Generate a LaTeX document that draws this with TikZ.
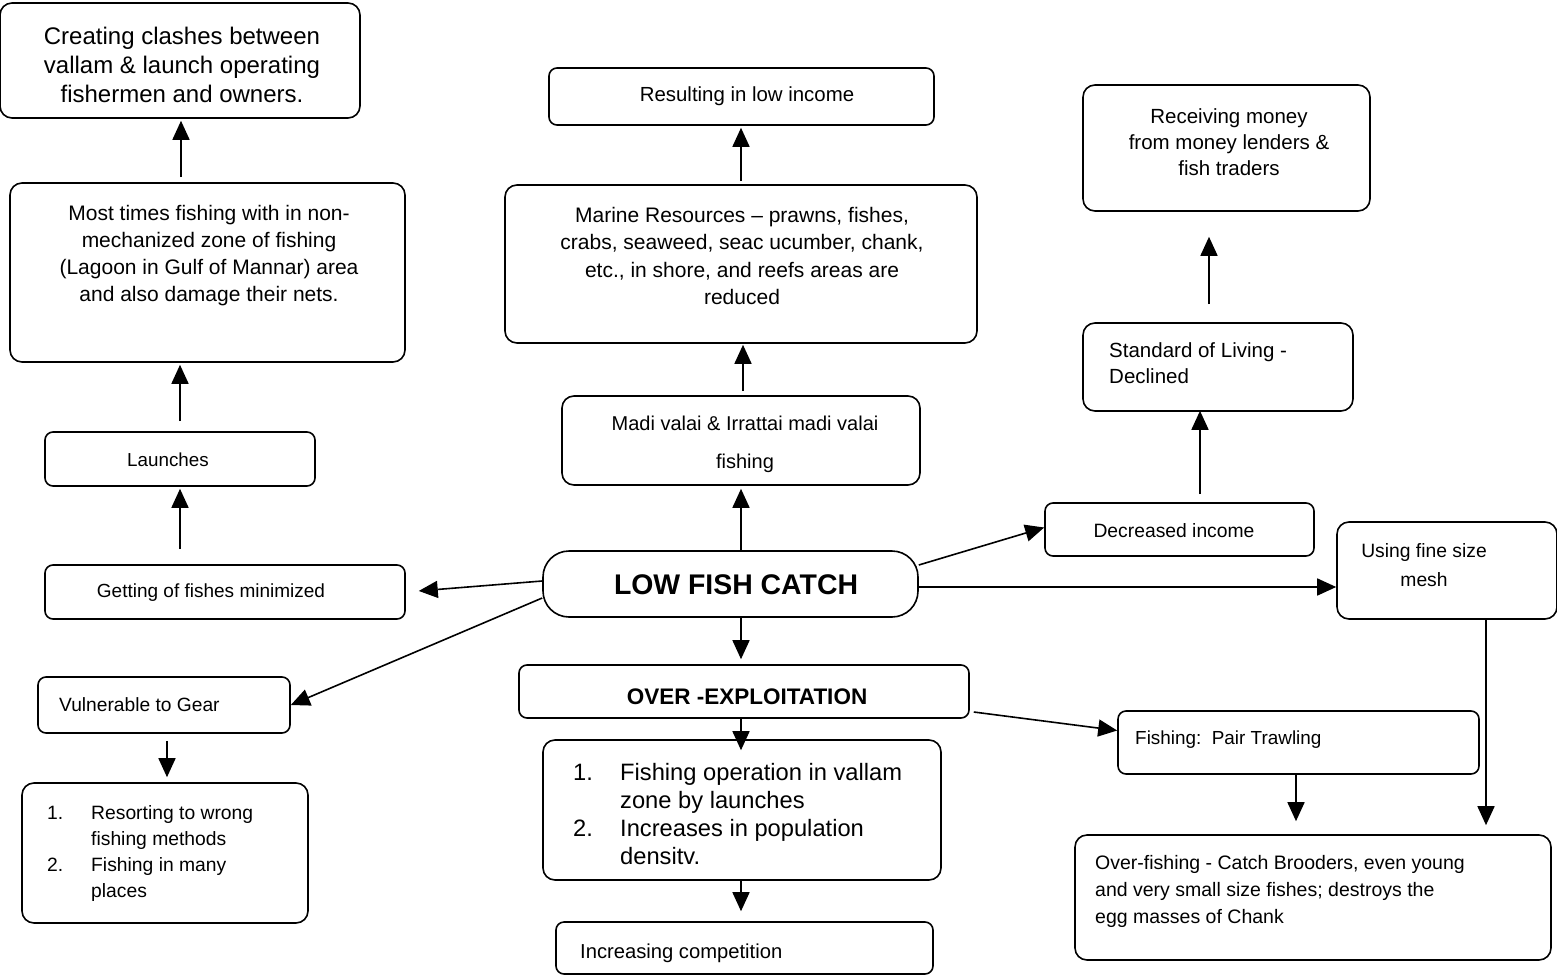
\documentclass[tikz,border=0pt]{standalone}
\usepackage{fontspec}
\setmainfont{Liberation Sans}
\usetikzlibrary{arrows.meta,fit}
\newcommand{\fs}[2]{\fontsize{#1}{#2}\selectfont}
\begin{document}
\begin{tikzpicture}[x=1pt,y=-1pt,
  box/.style={draw,line width=1.6pt,rounded corners=12pt,inner sep=0pt},
  sbox/.style={draw,line width=1.6pt,rounded corners=8pt,inner sep=0pt},
  txt/.style={inner sep=0pt,align=center,font=\fs{20}{27}},
  ltxt/.style={inner sep=0pt,align=left,font=\fs{20}{27}},
  arr/.style={line width=1.6pt,-{Triangle[length=19pt,width=17pt]}}]
\useasboundingbox (0,0) rectangle (1557,979);
\fill[white] (0,0) rectangle (1557,979);

% boxes
\node[box, fit={(0,3) (360,118)}] (clash) {};
\node[box, fit={(10,183) (405,362)}] (most) {};
\node[sbox, fit={(45,432) (315,486)}] (launch) {};
\node[sbox, fit={(45,565) (405,619)}] (getting) {};
\node[sbox, fit={(38,677) (290,733)}] (vuln) {};
\node[box, fit={(22,783) (308,923)}] (resort) {};
\node[draw,line width=1.6pt,rounded corners=26pt,inner sep=0pt, fit={(543,551) (918,617)}] (low) {};
\node[box, fit={(562,396) (920,485)}] (madi) {};
\node[box, fit={(505,185) (977,343)}] (marine) {};
\node[sbox, fit={(549,68) (934,125)}] (result) {};
\node[box, fit={(1083,85) (1370,211)}] (receive) {};
\node[box, fit={(1083,323) (1353,411)}] (stand) {};
\node[sbox, fit={(1045,503) (1314,556)}] (decr) {};
\node[box, fit={(1337,522) (1557,619)}] (mesh) {};
\node[sbox, fit={(519,665) (969,718)}] (over) {};
\node[box, fit={(543,740) (941,880)}] (oplist) {};
\node[sbox, fit={(556,922) (933,974)}] (compet) {};
\node[sbox, fit={(1118,711) (1479,774)}] (pair) {};
\node[box, fit={(1075,835) (1551,960)}] (overfish) {};

% texts
\node[txt,font=\fs{24}{29}] (tclash) at (182,65)
  {Creating clashes between\\vallam \& launch operating\\fishermen and owners.};
\node[txt,font=\fs{21}{27}] (tmost) at (209,256)
  {Most times fishing with in non-\\mechanized zone of fishing\\(Lagoon in Gulf of Mannar) area\\and also damage their nets.};
\node[txt,font=\fs{18.8}{27}] (tlaunch) at (168,460) {Launches};
\node[txt,font=\fs{19}{27}] (tgetting) at (211,593) {Getting of fishes minimized};
\node[ltxt,anchor=west,font=\fs{19.2}{27}] (tvuln) at (59,705) {Vulnerable to Gear};
\node[ltxt,anchor=north west,font=\fs{19.3}{27}] (tresort) at (47,800)
  {\begin{tabular}{@{}p{44pt}@{}l@{}}
   1. & Resorting to wrong\\[-1pt]
      & fishing methods\\[-1pt]
   2. & Fishing in many\\[-1pt]
      & places
   \end{tabular}};
\node[txt,font=\bfseries\fs{28.4}{30}] (tlow) at (736,585) {LOW FISH CATCH};
\node[txt,font=\fs{20}{38}] (tmadi) at (745,444)
  {Madi valai \& Irrattai madi valai\\fishing};
\node[txt,font=\fs{21}{27.5}] (tmarine) at (742,256)
  {Marine Resources -- prawns, fishes,\\crabs, seaweed, seac ucumber, chank,\\etc., in shore, and reefs areas are\\reduced};
\node[txt,font=\fs{20.4}{27}] (tresult) at (747,96) {Resulting in low income};
\node[txt,font=\fs{20.5}{26}] (treceive) at (1229,142)
  {Receiving money\\from money lenders \&\\fish traders};
\node[ltxt,anchor=west,font=\fs{20.5}{26}] (tstand) at (1109,363)
  {Standard of Living -\\Declined};
\node[txt,font=\fs{19.3}{27}] (tdecr) at (1174,531) {Decreased income};
\node[txt,font=\fs{19.3}{29}] (tmesh) at (1424,565) {Using fine size\\mesh};
\node[txt,font=\bfseries\fs{22.5}{24}] (tover) at (747,697) {OVER -EXPLOITATION};
\node[ltxt,anchor=north west,font=\fs{23.7}{29}] (toplist) at (573,760)
  {\begin{tabular}{@{}p{47pt}@{}l@{}}
   1. & Fishing operation in vallam\\[-1pt]
      & zone by launches\\[-1pt]
   2. & Increases in population\\[-1pt]
      & densitv.
   \end{tabular}};
\node[ltxt,anchor=west,font=\fs{20.2}{27}] (tcompet) at (580,953) {Increasing competition};
\node[ltxt,anchor=west,font=\fs{18.9}{27}] (tpair) at (1135,740) {Fishing:\ \ Pair Trawling};
\node[ltxt,anchor=west,font=\fs{19.5}{27}] (toverfish) at (1095,891)
  {Over-fishing - Catch Brooders, even young\\and very small size fishes; destroys\ the\\egg masses of Chank};

% connectors
\draw[arr,shorten <=5pt,shorten >=2pt] (most.north -| 181,0) -- (clash.south -| 181,0);
\draw[arr,shorten <=10pt,shorten >=2pt] (launch.north -| 180,0) -- (most.south -| 180,0);
\draw[arr,shorten <=15pt,shorten >=2pt] (getting.north -| 180,0) -- (launch.south -| 180,0);
\draw[arr,shorten >=13pt] ([yshift=3pt]low.west) -- (getting.east);
\draw[arr] ([yshift=-14pt]low.west) -- (vuln.east);
\draw[arr,shorten <=7pt,shorten >=5pt] (vuln.south -| 167,0) -- (resort.north -| 167,0);
\draw[arr,shorten >=3pt] (low.north -| 741,0) -- (madi.south -| 741,0);
\draw[arr,shorten <=4pt,shorten >=1pt] (madi.north -| 743,0) -- (marine.south -| 743,0);
\draw[arr,shorten <=3pt,shorten >=2pt] (marine.north -| 741,0) -- (result.south -| 741,0);
\draw[arr] ([yshift=19pt]low.east) -- ([yshift=2pt]decr.west);
\draw[arr,shorten <=8pt,shorten >=-1pt] (decr.north -| 1200,0) -- (stand.south -| 1200,0);
\draw[arr,shorten <=18pt,shorten >=25pt] (stand.north -| 1209,0) -- (receive.south -| 1209,0);
\draw[arr] (low.east |- 0,587) -- (mesh.west |- 0,587);
\draw[arr,shorten >=5pt] (low.south -| 741,0) -- (over.north -| 741,0);
\draw[arr,shorten >=-11pt] (over.south -| 741,0) -- (oplist.north -| 741,0);
\draw[arr,shorten >=10pt] (oplist.south -| 741,0) -- (compet.north -| 741,0);
\draw[arr,shorten <=4pt] ([yshift=-20pt]over.east) -- ([yshift=12pt]pair.west);
\draw[arr,shorten >=13pt] (pair.south -| 1296,0) -- (overfish.north -| 1296,0);
\draw[arr,shorten >=9pt] (mesh.south -| 1486,0) -- (overfish.north -| 1486,0);
\end{tikzpicture}
\end{document}
